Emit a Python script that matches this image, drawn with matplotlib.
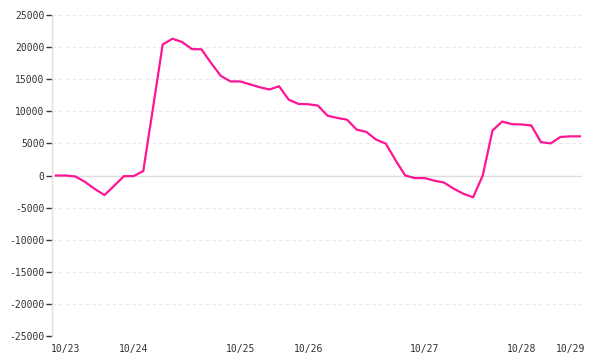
import matplotlib
matplotlib.use("Agg")
import matplotlib.pyplot as plt
import numpy as np

values = [0, 0, -150, -1000, -2100, -3050, -1600, -100, -100, 700,
          10500, 20400, 21300, 20800, 19700, 19650, 17500, 15500, 14650, 14650,
          14200, 13750, 13400, 13900, 11800, 11150, 11100, 10900, 9300, 8970,
          8700, 7150, 6790, 5590, 4970, 2400, 0, -400, -400, -800,
          -1100, -2050, -2840, -3400, 0, 7000, 8400, 8000, 7950, 7800,
          5200, 5000, 6000, 6100, 6100]
tick_idx = [1, 8, 19, 26, 38, 48, 53]
tick_labels = ["10/23", "10/24", "10/25", "10/26", "10/27", "10/28", "10/29"]
y_ticks = list(range(-25000, 25001, 5000))

fig = plt.figure(figsize=(6, 3.6), dpi=100)
ax = fig.add_axes([52/600, 24/360, 530/600, 321/360])
x = np.arange(len(values))

for yv in y_ticks:
    if yv == 0:
        ax.axhline(0, color="#dddddd", lw=1, zorder=1)
    else:
        ax.axhline(yv, color="#e8e8e8", lw=0.8, ls=(0, (3, 3)), zorder=1)

ax.plot(x, values, color="#ff1493", lw=1.6, zorder=3, solid_joinstyle="round")

ax.set_xlim(-0.41, 54.23)
ax.set_ylim(-25000, 25000)
ax.set_yticks(y_ticks)
ax.set_yticklabels([str(v).replace("-", "\u2212") if False else str(v) for v in y_ticks],
                   family="DejaVu Sans Mono", fontsize=7, color="#333333")
ax.set_xticks(tick_idx)
ax.set_xticklabels(tick_labels, family="DejaVu Sans Mono", fontsize=7, color="#333333")
ax.tick_params(axis="y", length=4.5, width=1, color="#333333", pad=1)
ax.tick_params(axis="x", length=0, pad=6)

for s in ["top", "right", "bottom"]:
    ax.spines[s].set_visible(False)
ax.spines["left"].set_color("#dddddd")
ax.spines["left"].set_linewidth(1)

fig.savefig("out.png", dpi=100)
